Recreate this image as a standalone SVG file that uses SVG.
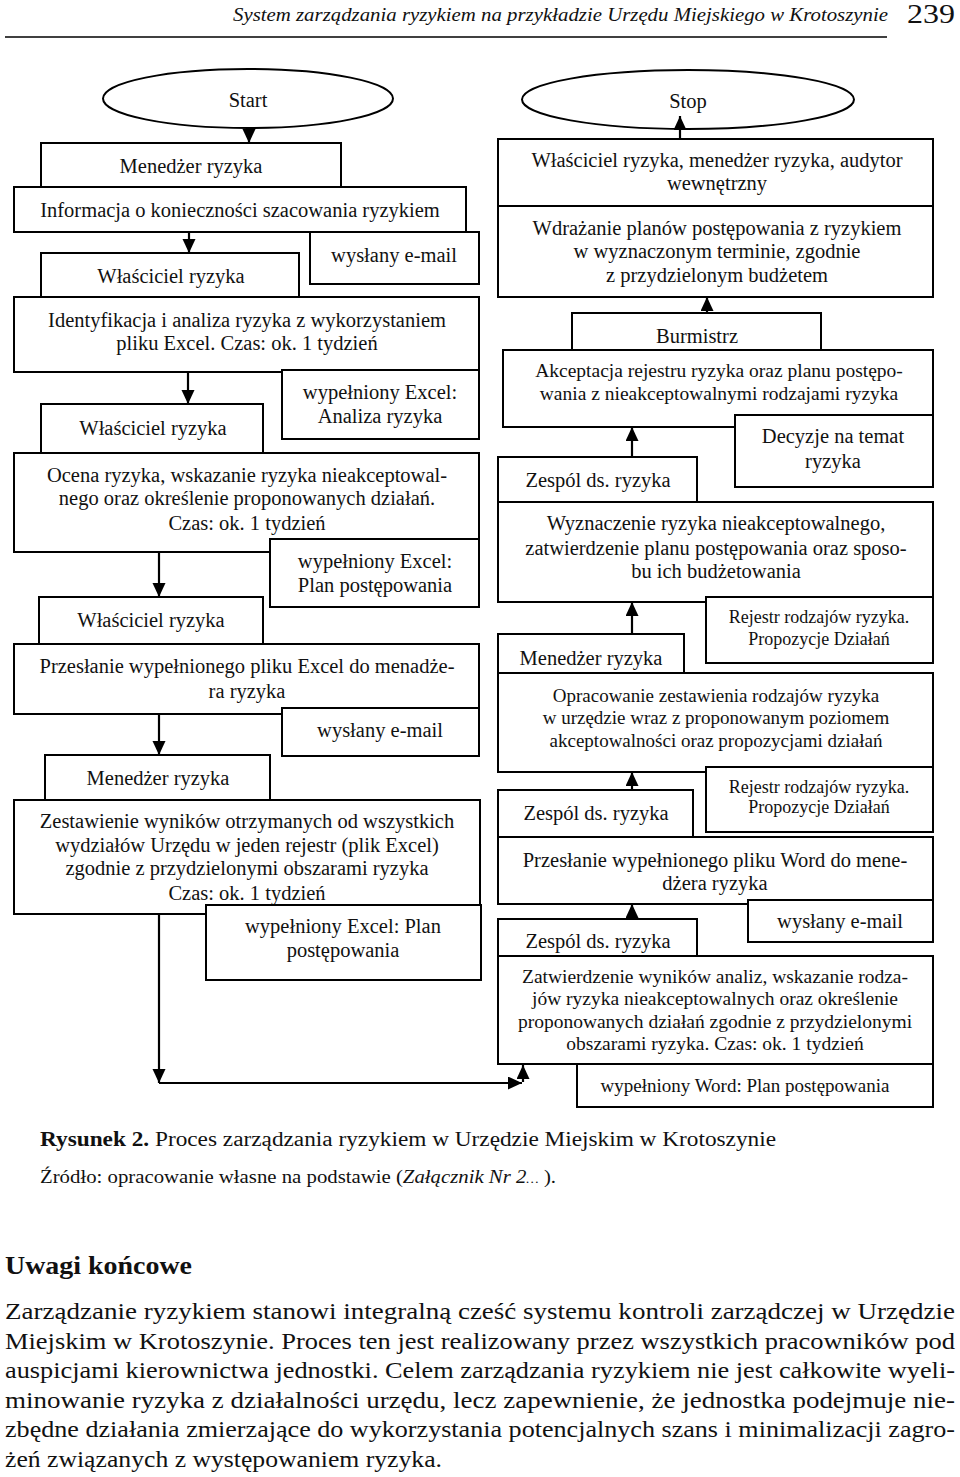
<svg xmlns="http://www.w3.org/2000/svg" width="960" height="1477" viewBox="0 0 960 1477">
<style>
.bg{fill:#fff}
.b{fill:#fff;stroke:#000;stroke-width:2}
.t{font-family:"Liberation Serif","Times New Roman",serif;font-size:20.5px;text-anchor:middle;fill:#111}
.s19{font-size:19.5px}
.s19b{font-size:19px}
.s18{font-size:18px}
.c{fill:none;stroke:#000;stroke-width:2.2;marker-end:url(#ah)}
.p{font-family:"Liberation Serif","Times New Roman",serif;fill:#111}
</style>
<defs>
<marker id="ah" markerUnits="userSpaceOnUse" markerWidth="15" markerHeight="14" refX="14" refY="6.5" orient="auto">
<path d="M0,0 L14,6.5 L0,13 Z" fill="#000"/>
</marker>
</defs>
<rect class="bg" x="0" y="0" width="960" height="1477"/>

<!-- header -->
<text class="p" x="233" y="21" font-size="19" font-style="italic" textLength="655" lengthAdjust="spacingAndGlyphs">System zarządzania ryzykiem na przykładzie Urzędu Miejskiego w Krotoszynie</text>
<text class="p" x="907" y="23" font-size="27" textLength="48" lengthAdjust="spacingAndGlyphs">239</text>
<line x1="5" y1="37" x2="887" y2="37" stroke="#000" stroke-width="1.5"/>

<!-- left column -->
<g id="start"><ellipse class="b" cx="248" cy="98.5" rx="145" ry="29.5"/><text class="t" x="248" y="107" font-size="21.5">Start</text></g>
<g id="n1"><rect class="b" x="41" y="143" width="300" height="44"/><text class="t" x="191" y="173">Menedżer ryzyka</text></g>
<g id="n2"><rect class="b" x="14" y="187" width="452" height="45"/><text class="t" x="240" y="217">Informacja o konieczności szacowania ryzykiem</text></g>
<g id="n3"><rect class="b" x="41" y="253" width="258" height="44"/><text class="t" x="171" y="283">Właściciel ryzyka</text></g>
<g id="e1"><rect class="b" x="310" y="232" width="169" height="52"/><text class="t" x="394" y="262">wysłany e-mail</text></g>
<g id="n4"><rect class="b" x="14" y="297" width="465" height="75"/><text class="t" x="247" y="327">Identyfikacja i analiza ryzyka z wykorzystaniem</text><text class="t" x="247" y="350">pliku Excel. Czas: ok. 1 tydzień</text></g>
<g id="a1"><rect class="b" x="282" y="370" width="197" height="69"/><text class="t" x="380" y="399">wypełniony Excel:</text><text class="t" x="380" y="423">Analiza ryzyka</text></g>
<g id="n5"><rect class="b" x="41" y="404" width="222" height="49"/><text class="t" x="153" y="435">Właściciel ryzyka</text></g>
<g id="n6"><rect class="b" x="14" y="453" width="465" height="99"/><text class="t" x="247" y="482">Ocena ryzyka, wskazanie ryzyka nieakceptowal-</text><text class="t" x="247" y="505">nego oraz określenie proponowanych działań.</text><text class="t" x="247" y="530">Czas: ok. 1 tydzień</text></g>
<g id="a2"><rect class="b" x="270" y="539" width="209" height="68"/><text class="t" x="375" y="568">wypełniony Excel:</text><text class="t" x="375" y="592">Plan postępowania</text></g>
<g id="n7"><rect class="b" x="39" y="597" width="224" height="47"/><text class="t" x="151" y="627">Właściciel ryzyka</text></g>
<g id="n8"><rect class="b" x="14" y="644" width="465" height="70"/><text class="t" x="247" y="673">Przesłanie wypełnionego pliku Excel do menadże-</text><text class="t" x="247" y="698">ra ryzyka</text></g>
<g id="a3"><rect class="b" x="282" y="708" width="197" height="48"/><text class="t" x="380" y="737">wysłany e-mail</text></g>
<g id="n9"><rect class="b" x="45" y="755" width="225" height="45"/><text class="t" x="158" y="785">Menedżer ryzyka</text></g>
<g id="n10"><rect class="b" x="14" y="800" width="466" height="114"/><text class="t" x="247" y="828">Zestawienie wyników otrzymanych od wszystkich</text><text class="t" x="247" y="852">wydziałów Urzędu w jeden rejestr (plik Excel)</text><text class="t" x="247" y="875">zgodnie z przydzielonymi obszarami ryzyka</text><text class="t" x="247" y="900">Czas: ok. 1 tydzień</text></g>
<g id="a4"><rect class="b" x="206" y="905" width="275" height="75"/><text class="t" x="343" y="933">wypełniony Excel: Plan</text><text class="t" x="343" y="957">postępowania</text></g>

<!-- right column -->
<g id="stop"><ellipse class="b" cx="688" cy="99.5" rx="166" ry="29.5"/><text class="t" x="688" y="108" font-size="21.5">Stop</text></g>
<g id="r1"><rect class="b" x="498" y="139" width="435" height="67"/><text class="t" x="717" y="167">Właściciel ryzyka, menedżer ryzyka, audytor</text><text class="t" x="717" y="190">wewnętrzny</text></g>
<g id="r2"><rect class="b" x="498" y="206" width="435" height="91"/><text class="t" x="717" y="235">Wdrażanie planów postępowania z ryzykiem</text><text class="t" x="717" y="258">w wyznaczonym terminie, zgodnie</text><text class="t" x="717" y="282">z przydzielonym budżetem</text></g>
<g id="r3"><rect class="b" x="572" y="313" width="249" height="37"/><text class="t" x="697" y="343">Burmistrz</text></g>
<g id="r4"><rect class="b" x="503" y="350" width="430" height="77"/><text class="t s19" x="719" y="377">Akceptacja rejestru ryzyka oraz planu postępo-</text><text class="t s19" x="719" y="400">wania z nieakceptowalnymi rodzajami ryzyka</text></g>
<g id="r5"><rect class="b" x="735" y="415" width="198" height="72"/><text class="t" x="833" y="443">Decyzje na temat</text><text class="t" x="833" y="468">ryzyka</text></g>
<g id="r6"><rect class="b" x="498" y="457" width="199" height="45"/><text class="t" x="598" y="487">Zespól ds. ryzyka</text></g>
<g id="r7"><rect class="b" x="498" y="502" width="435" height="100"/><text class="t" x="716" y="530">Wyznaczenie ryzyka nieakceptowalnego,</text><text class="t" x="716" y="555">zatwierdzenie planu postępowania oraz sposo-</text><text class="t" x="716" y="578">bu ich budżetowania</text></g>
<g id="r8"><rect class="b" x="706" y="597" width="227" height="66"/><text class="t s18" x="819" y="623">Rejestr rodzajów ryzyka.</text><text class="t s18" x="819" y="645">Propozycje Działań</text></g>
<g id="r9"><rect class="b" x="498" y="634" width="186" height="39"/><text class="t" x="591" y="665">Menedżer ryzyka</text></g>
<g id="r10"><rect class="b" x="498" y="673" width="435" height="99"/><text class="t s19b" x="716" y="702">Opracowanie zestawienia rodzajów ryzyka</text><text class="t s19b" x="716" y="724">w urzędzie wraz z proponowanym poziomem</text><text class="t s19b" x="716" y="747">akceptowalności oraz propozycjami działań</text></g>
<g id="r11"><rect class="b" x="706" y="767" width="227" height="65"/><text class="t s18" x="819" y="793">Rejestr rodzajów ryzyka.</text><text class="t s18" x="819" y="813">Propozycje Działań</text></g>
<g id="r12"><rect class="b" x="498" y="790" width="195" height="47"/><text class="t" x="596" y="820">Zespól ds. ryzyka</text></g>
<g id="r13"><rect class="b" x="498" y="837" width="435" height="67"/><text class="t" x="715" y="867">Przesłanie wypełnionego pliku Word do mene-</text><text class="t" x="715" y="890">dżera ryzyka</text></g>
<g id="r14"><rect class="b" x="748" y="900" width="185" height="42"/><text class="t" x="840" y="928">wysłany e-mail</text></g>
<g id="r15"><rect class="b" x="498" y="919" width="199" height="37"/><text class="t" x="598" y="948">Zespól ds. ryzyka</text></g>
<g id="r16"><rect class="b" x="498" y="956" width="435" height="108"/><text class="t s19" x="715" y="983">Zatwierdzenie wyników analiz, wskazanie rodza-</text><text class="t s19" x="715" y="1005">jów ryzyka nieakceptowalnych oraz określenie</text><text class="t s19" x="715" y="1028">proponowanych działań zgodnie z przydzielonymi</text><text class="t s19" x="715" y="1050">obszarami ryzyka. Czas: ok. 1 tydzień</text></g>
<g id="r17"><rect class="b" x="577" y="1064" width="356" height="43"/><text class="t s19b" x="745" y="1092">wypełniony Word: Plan postępowania</text></g>

<!-- connectors -->
<g id="connectors">
<path class="c" d="M249,128 V143"/>
<path class="c" d="M189,232 V253"/>
<path class="c" d="M188,372 V404"/>
<path class="c" d="M159,552 V597"/>
<path class="c" d="M159,714 V755"/>
<path class="c" d="M159,914 V1083"/>
<path class="c" d="M159,1083 H522"/>
<path class="c" d="M523,1082 V1065"/>
<path class="c" d="M632,919 V904"/>
<path class="c" d="M632,790 V772"/>
<path class="c" d="M632,634 V602"/>
<path class="c" d="M632,457 V427"/>
<path class="c" d="M707,313 V297"/>
<path class="c" d="M680,139 V116"/>
</g>

<!-- caption and text -->
<text class="p" x="40" y="1146" font-size="20" textLength="736" lengthAdjust="spacingAndGlyphs"><tspan font-weight="bold">Rysunek 2.</tspan> Proces zarządzania ryzykiem w Urzędzie Miejskim w Krotoszynie</text>
<text class="p" x="40" y="1183" font-size="18" textLength="516" lengthAdjust="spacingAndGlyphs">Źródło: opracowanie własne na podstawie (<tspan font-style="italic">Załącznik Nr 2</tspan><tspan font-size="12" font-style="italic">…</tspan> ).</text>
<text class="p" x="5" y="1274" font-size="25" font-weight="bold" textLength="187" lengthAdjust="spacingAndGlyphs">Uwagi końcowe</text>
<g class="p" font-size="23">
<text x="5" y="1319" textLength="950" lengthAdjust="spacingAndGlyphs">Zarządzanie ryzykiem stanowi integralną cześć systemu kontroli zarządczej w Urzędzie</text>
<text x="5" y="1349" textLength="950" lengthAdjust="spacingAndGlyphs">Miejskim w Krotoszynie. Proces ten jest realizowany przez wszystkich pracowników pod</text>
<text x="5" y="1378" textLength="950" lengthAdjust="spacingAndGlyphs">auspicjami kierownictwa jednostki. Celem zarządzania ryzykiem nie jest całkowite wyeli-</text>
<text x="5" y="1408" textLength="950" lengthAdjust="spacingAndGlyphs">minowanie ryzyka z działalności urzędu, lecz zapewnienie, że jednostka podejmuje nie-</text>
<text x="5" y="1437" textLength="950" lengthAdjust="spacingAndGlyphs">zbędne działania zmierzające do wykorzystania potencjalnych szans i minimalizacji zagro-</text>
<text x="5" y="1467" textLength="437" lengthAdjust="spacingAndGlyphs">żeń związanych z występowaniem ryzyka.</text>
</g>
</svg>
